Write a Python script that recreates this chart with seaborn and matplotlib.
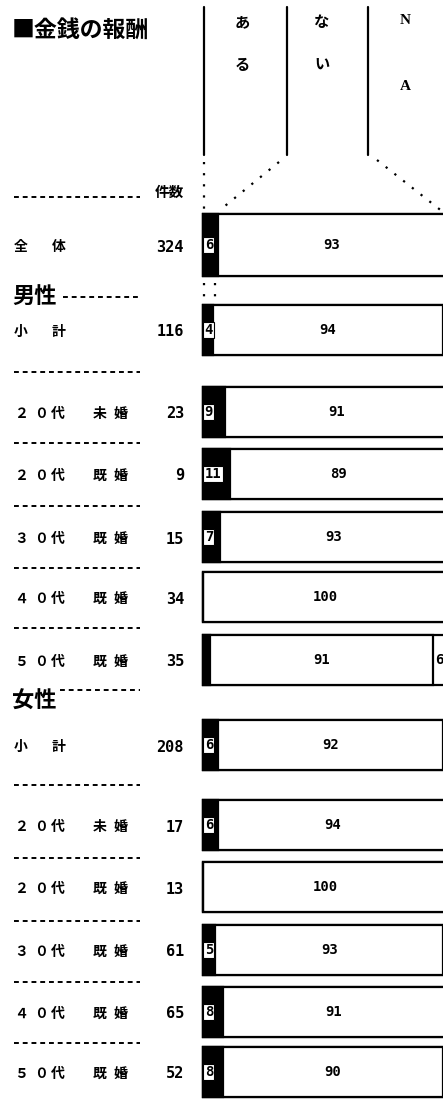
import matplotlib
matplotlib.use("Agg")
import matplotlib.pyplot as plt
import seaborn as sns

sns.set_style("white")
plt.rcParams['font.family'] = ['Noto Sans CJK JP', 'DejaVu Sans']
plt.rcParams['text.color'] = 'black'

# data (percent)
left_words = ["全", "小", "２０代", "２０代", "３０代", "４０代", "５０代",
              "小", "２０代", "２０代", "３０代", "４０代", "５０代"]
right_words = ["体", "計", "未婚", "既婚", "既婚", "既婚", "既婚",
               "計", "未婚", "既婚", "既婚", "既婚", "既婚"]
counts = [324, 116, 23, 9, 15, 34, 35, 208, 17, 13, 61, 65, 52]
aru = [6, 4, 9, 11, 7, 0, 3, 6, 6, 0, 5, 8, 8]
nai = [93, 94, 91, 89, 93, 100, 91, 92, 94, 100, 93, 91, 90]
na = [1, 2, 0, 0, 0, 0, 6, 2, 0, 0, 2, 1, 2]

# layout (pixels)
W, H = 443, 1102
row_mid = [245, 330, 412, 474, 537, 597, 660, 745, 825, 887, 950, 1012, 1072]
bar_h = [62] + [50] * 12
x0, pxp = 203, 2.45          # 0% position, pixels per percent
num_font = ['DejaVu Sans Mono', 'DejaVu Sans']

fig = plt.figure(figsize=(W / 100, H / 100), dpi=100)
ov = fig.add_axes([0, 0, 1, 1])
ov.set_xlim(0, W)
ov.set_ylim(H, 0)
ov.axis('off')

# title and header
ov.text(12, 30, "■金銭の報酬", fontsize=16.5, fontweight='bold', va='center', ha='left')
for xv in [204, 287, 368]:
    ov.plot([xv, xv], [7, 155], color='black', lw=1.6)
for xv, ch, yy in [(242, "あ", 22), (242, "る", 65), (322, "な", 22), (322, "い", 65)]:
    ov.text(xv, yy, ch, fontsize=11, fontweight='bold', ha='center', va='center')
ov.text(405, 21, "N", fontsize=11, fontweight='bold', ha='center', va='center', family='Liberation Serif')
ov.text(405, 87, "A", fontsize=11, fontweight='bold', ha='center', va='center', family='Liberation Serif')
dot = dict(color='black', lw=1.6, linestyle=(0, (1, 4)))
ov.plot([204, 204], [162, 210], **dot)
ov.plot([279, 220], [162, 210], **dot)
ov.plot([377, 443], [160, 212], **dot)
ov.plot([204, 204], [283, 300], **dot)
ov.plot([215, 215], [283, 300], **dot)

ov.text(169, 192, "件数", fontsize=10.5, fontweight='bold', ha='center', va='center')

dash = dict(color='black', lw=1.4, linestyle=(0, (2.5, 2.0)))
for yy in [197, 372, 443, 506, 568, 628, 785, 858, 921, 982, 1043]:
    ov.plot([14, 140], [yy, yy], **dash)
ov.text(12, 296, "男性", fontsize=16, fontweight='bold', ha='left', va='center')
ov.plot([63, 140], [297, 297], **dash)
ov.text(12, 701, "女性", fontsize=16, fontweight='bold', ha='left', va='center')
ov.plot([60, 140], [690, 690], **dash)

# row labels
for i in range(len(counts)):
    y = row_mid[i] + 2
    lpos = [21] if len(left_words[i]) == 1 else [21, 41, 58]
    rpos = [59] if len(right_words[i]) == 1 else [100, 120]
    for ch, xv in zip(left_words[i], lpos):
        ov.text(xv, y, ch, fontsize=10, fontweight='bold', ha='center', va='center')
    for ch, xv in zip(right_words[i], rpos):
        ov.text(xv, y, ch, fontsize=10, fontweight='bold', ha='center', va='center')
    ov.text(184, y, str(counts[i]), fontsize=11, fontweight='bold', ha='right',
            va='center', family=num_font)

# stacked bars, one small axes per row
ax_left = 195
for i in range(len(counts)):
    ah = bar_h[i] / 0.8
    ax = fig.add_axes([ax_left / W, 1 - (row_mid[i] + ah / 2) / H,
                       (W - ax_left) / W, ah / H])
    lab = [str(i)]
    sns.barplot(x=[aru[i] + nai[i] + na[i]], y=lab, orient='h', color='white',
                edgecolor='black', linewidth=1.6, width=0.8, ax=ax)
    sns.barplot(x=[aru[i] + nai[i]], y=lab, orient='h', color='white',
                edgecolor='black', linewidth=1.6, width=0.8, ax=ax)
    sns.barplot(x=[aru[i]], y=lab, orient='h', color='black',
                edgecolor='black', linewidth=1.6, width=0.8, ax=ax)
    ax.set_xlim((ax_left - x0) / pxp, (W - x0) / pxp)
    ax.set_ylim(0.5, -0.5)
    ax.axis('off')
    ax.text(aru[i] + nai[i] / 2, 0, str(nai[i]), ha='center', va='center',
            fontsize=10, fontweight='bold', family=num_font)
    if aru[i] >= 4:
        ax.text(0.7, 0, str(aru[i]), ha='left', va='center', fontsize=10,
                fontweight='bold', family=num_font,
                bbox=dict(boxstyle='square,pad=0.1', fc='white', ec='black', lw=0.8))
    if na[i] >= 5:
        ax.text(aru[i] + nai[i] + 0.8, 0, str(na[i]), ha='left', va='center',
                fontsize=10, fontweight='bold', family=num_font)

fig.savefig("out.png", dpi=100)
